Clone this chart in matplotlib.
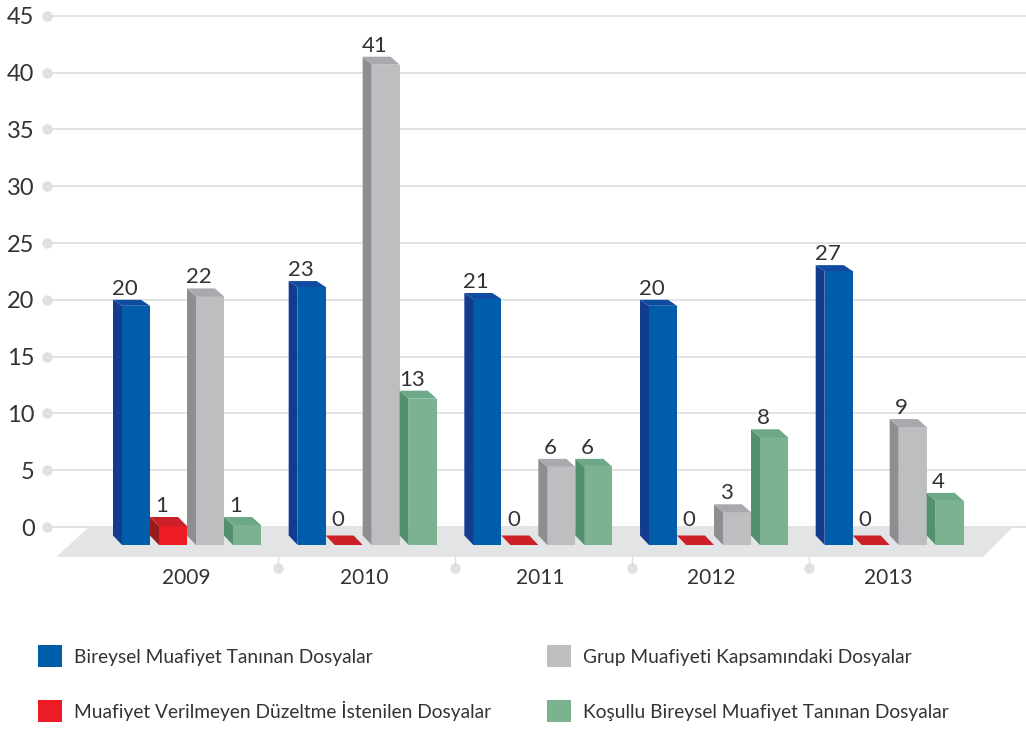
import matplotlib
matplotlib.use("Agg")
import matplotlib.pyplot as plt
from matplotlib.patches import Patch

plt.rcParams['font.family'] = ['Lato', 'DejaVu Sans']

years = ['2009', '2010', '2011', '2012', '2013']
series_names = ['Bireysel Muafiyet Tanınan Dosyalar',
                'Muafiyet Verilmeyen Düzeltme İstenilen Dosyalar',
                'Grup Muafiyeti Kapsamındaki Dosyalar',
                'Koşullu Bireysel Muafiyet Tanınan Dosyalar']

# printed labels
blue_labels = [20, 23, 21, 20, 27]
red_labels = [1, 0, 0, 0, 0]
grey_labels = [22, 41, 6, 3, 9]
green_labels = [1, 13, 6, 8, 4]

# bar heights as drawn against the axis (they do not always agree with the labels)
blue_heights = [20.0, 21.65, 20.6, 20.0, 23.05]
red_heights = [0.88, 0, 0, 0, 0]
grey_heights = [21.0, 41.4, 6.0, 2.0, 9.5]
green_heights = [0.88, 12.0, 6.0, 8.6, 3.0]

yticks = [0, 5, 10, 15, 20, 25, 30, 35, 40, 45]

# front, side, top
blue_cols = ('#005DAA', '#133C8F', '#0F4BA0')
red_cols = ('#ED1C24', '#981B1E', '#CB2027')
grey_cols = ('#BCBEC0', '#8C8E91', '#A7A9AC')
green_cols = ('#7DB290', '#53906C', '#6DA888')
text_col = '#333336'
line_col = '#DFE0E2'

W, H = 1026, 729
px_y = 56.8 / 5       # pixels per y unit
px_x = 175.67         # pixels per group
y0 = 527              # pixel row of value 0
floor_bottom = 557
x0 = 113              # pixel column of the first bar

fx = lambda p: (p - x0) / px_x

fig = plt.figure(figsize=(W / 100, H / 100), dpi=100)
ax = fig.add_axes([47 / W, (H - floor_bottom) / H, (W - 47) / W, floor_bottom / H])
ax.set_xlim((47 - x0) / px_x, (W - x0) / px_x)
ax.set_ylim((y0 - floor_bottom) / px_y, y0 / px_y)
for s in ax.spines.values():
    s.set_visible(False)

ax.set_yticks(yticks)
ax.tick_params(axis='y', length=0, pad=9, labelsize=17, labelcolor=text_col)
ax.tick_params(axis='x', length=0, pad=8, labelsize=15, labelcolor=text_col)
ax.yaxis.grid(True, color=line_col, lw=1.3)
ax.set_axisbelow(True)
ax.plot([ax.get_xlim()[0]] * len(yticks), yticks, 'o', color=line_col, ms=6.5, clip_on=False, zorder=3)

ax.set_xticks([fx(p) for p in (186, 364, 540, 711, 888)])
ax.set_xticklabels(years)

# floor
ax.fill([fx(89), fx(1013), fx(983), fx(56)], [0, 0, ax.get_ylim()[0], ax.get_ylim()[0]],
        color='#E3E4E6', lw=0, zorder=1)

# little separators under the floor
for p in (278, 455, 632, 809):
    ax.plot([fx(p)] * 2, [ax.get_ylim()[0], -3.2], color=line_col, lw=1, clip_on=False, zorder=1)
    ax.plot([fx(p)], [-3.6], 'o', color=line_col, ms=6.5, clip_on=False, zorder=1)

slot = 37 / px_x
depth_x = 9 / px_x
face_w = 28 / px_x
base_front = -18 / px_y
base_back = -8.5 / px_y

series = [(blue_heights, blue_labels, blue_cols, 6),
          (red_heights, red_labels, red_cols, 9),
          (grey_heights, grey_labels, grey_cols, 8),
          (green_heights, green_labels, green_cols, 8)]

for j, (heights, labels, cols, top_px) in enumerate(series):
    front, side, top = cols
    dy = top_px / px_y
    for i, (h, lab) in enumerate(zip(heights, labels)):
        left = i + j * slot
        if h > 0:
            ax.bar(left + depth_x, h - dy - base_front, bottom=base_front, width=face_w,
                   align='edge', color=front, lw=0, zorder=2)
            ax.fill([left, left + depth_x, left + depth_x, left],
                    [h, h - dy, base_front, base_back], color=side, lw=0, zorder=2)
            ax.fill([left, left + face_w, left + face_w + depth_x, left + depth_x],
                    [h, h, h - dy, h - dy], color=top, lw=0, zorder=2)
            label_y = h + 1 / px_y
        else:
            # zero bars are only a flat slab on the floor
            ax.fill([left, left + face_w, left + face_w + depth_x, left + depth_x],
                    [base_back, base_back, base_front, base_front], color=top, lw=0, zorder=2)
            label_y = -3 / px_y
        ax.text(left + 12 / px_x, label_y, str(lab), ha='center', va='bottom',
                fontsize=16, color=text_col, zorder=4)

handles = [Patch(color=c[0], lw=0) for c in (blue_cols, red_cols, grey_cols, green_cols)]
fig.legend(handles, series_names, ncol=2, frameon=False, fontsize=13.8,
           loc='upper left', bbox_to_anchor=(38 / W, 1 - 645 / H), borderaxespad=0, borderpad=0,
           handlelength=1.25, handleheight=1.42, handletextpad=0.63,
           labelspacing=1.7, columnspacing=2.92, labelcolor=text_col)

fig.savefig('out.png', dpi=100, facecolor='white')
